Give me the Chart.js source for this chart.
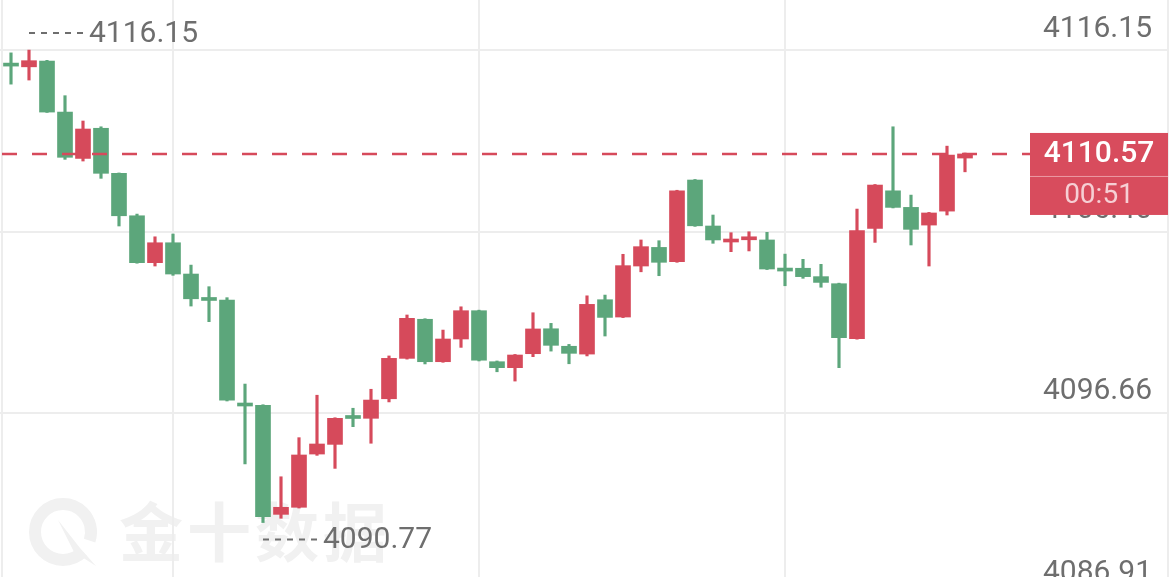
<!DOCTYPE html>
<html>
<head>
<meta charset="utf-8">
<script src="https://cdn.jsdelivr.net/npm/chart.js@4.4.0/dist/chart.umd.min.js"></script>
<style>
  html, body { margin: 0; padding: 0; background: #fff; overflow: hidden; }
  #wrap { position: relative; width: 1170px; height: 600px; }
</style>
</head>
<body>
<div id="wrap"><canvas id="kline" width="1170" height="600"></canvas></div>
<script>
// one-minute candles
const opens = [
  4115.34, 4115.25, 4115.56, 4112.82, 4110.33, 4111.95, 4109.53, 4107.25, 4104.73, 4105.80,
  4104.12, 4102.75, 4102.72, 4097.08, 4097.07, 4091.21, 4091.59, 4094.45, 4094.97, 4096.42,
  4096.37, 4097.42, 4099.59, 4101.69, 4099.41, 4100.63, 4102.15, 4099.41, 4099.09, 4099.84,
  4101.18, 4100.24, 4099.82, 4102.74, 4101.81, 4104.55, 4105.55, 4104.78, 4109.17, 4106.70,
  4105.84, 4105.96, 4105.95, 4104.32, 4104.43, 4103.98, 4103.60, 4100.65, 4106.57, 4108.59,
  4107.70, 4106.75, 4107.50, 4110.35];
const highs = [
  4116.00, 4116.15, 4115.60, 4113.70, 4112.34, 4112.03, 4109.55, 4107.34, 4106.12, 4106.27,
  4104.60, 4103.44, 4102.85, 4098.21, 4097.10, 4093.23, 4095.33, 4097.61, 4096.40, 4096.91,
  4097.93, 4099.72, 4101.92, 4101.72, 4101.11, 4102.36, 4102.18, 4099.45, 4099.80, 4102.04,
  4101.47, 4100.34, 4102.95, 4102.99, 4105.18, 4105.95, 4105.91, 4108.62, 4109.20, 4107.29,
  4106.34, 4106.39, 4106.36, 4105.19, 4104.91, 4104.64, 4103.63, 4107.61, 4108.93, 4112.03,
  4108.36, 4107.43, 4110.99, 4110.62];
const lows = [
  4114.32, 4114.54, 4112.80, 4110.28, 4110.19, 4109.26, 4106.70, 4104.70, 4104.55, 4104.05,
  4102.40, 4101.56, 4097.30, 4093.92, 4090.77, 4091.00, 4091.55, 4094.38, 4093.68, 4095.92,
  4095.03, 4097.25, 4099.55, 4099.29, 4099.38, 4100.18, 4099.45, 4098.87, 4098.37, 4099.68,
  4099.98, 4099.30, 4099.72, 4100.79, 4101.78, 4104.24, 4104.03, 4104.75, 4106.68, 4105.77,
  4105.32, 4105.36, 4104.36, 4103.49, 4103.89, 4103.41, 4099.09, 4100.62, 4105.82, 4107.67,
  4105.68, 4104.55, 4107.29, 4109.61];
const closes = [
  4115.29, 4115.58, 4112.82, 4110.39, 4111.91, 4109.53, 4107.25, 4104.73, 4105.80, 4104.12,
  4102.79, 4102.70, 4097.35, 4097.03, 4091.09, 4091.59, 4094.40, 4094.99, 4096.37, 4096.36,
  4097.35, 4099.59, 4101.74, 4099.41, 4100.63, 4102.15, 4099.49, 4099.09, 4099.77, 4101.17,
  4100.29, 4099.86, 4102.49, 4101.79, 4104.57, 4105.59, 4104.75, 4108.59, 4106.71, 4105.95,
  4105.95, 4106.00, 4104.39, 4104.28, 4103.98, 4103.67, 4100.70, 4106.45, 4108.90, 4107.70,
  4106.52, 4107.40, 4110.51, 4110.57];

const yTicks = [4116.15, 4106.40, 4096.66, 4086.91];
const xGridAt = [-0.5, 9, 26, 43];
const lastPrice = 4110.57;
const countdown = '00:51';
const watermark = '金十数据';

const RED = '#d64a5b';
const GREEN = '#5ca67b';
const GRID = '#ededed';
const LABEL = '#6e6e6e';
const FONT = 'Roboto, "Noto Sans", sans-serif';

Chart.defaults.font.family = FONT;

const up = i => closes[i] >= opens[i];
const candleColor = c => up(c.dataIndex) ? RED : GREEN;

const wicks = lows.map((l, i) => ({x: i, y: [l, highs[i]]}));
const bodies = opens.map((o, i) => ({x: i, y: [o, closes[i]]}));

let iHigh = 0, iLow = 0;
for (let i = 0; i < highs.length; i++) {
  if (highs[i] > highs[iHigh]) iHigh = i;
  if (lows[i] < lows[iLow]) iLow = i;
}

const overlay = {
  id: 'overlay',
  beforeDraw(chart) {
    const ctx = chart.ctx;
    ctx.save();
    // watermark
    ctx.strokeStyle = '#f1f1f1';
    ctx.fillStyle = '#f1f1f1';
    ctx.lineWidth = 12;
    ctx.beginPath();
    ctx.arc(63, 532, 28, 0.25 * Math.PI, 2.1 * Math.PI);
    ctx.stroke();
    ctx.beginPath();
    ctx.moveTo(58, 520); ctx.lineTo(80, 548); ctx.lineTo(96, 566); ctx.lineTo(74, 552);
    ctx.closePath(); ctx.fill();
    ctx.font = 'bold 64px "Noto Sans CJK SC"';
    ctx.textBaseline = 'middle';
    ctx.textAlign = 'left';
    for (let k = 0; k < watermark.length; k++) {
      ctx.fillText(watermark[k], 119 + 68 * k, 532);
    }
    ctx.restore();
  },
  afterDatasetsDraw(chart) {
    const {ctx, scales: {x, y}} = chart;
    const tagLeft = 1030, tagRight = chart.chartArea.right;
    const py = y.getPixelForValue(lastPrice);
    ctx.save();

    // last price line
    ctx.strokeStyle = RED;
    ctx.lineWidth = 2.5;
    ctx.setLineDash([15, 15]);
    ctx.beginPath();
    ctx.moveTo(2, py);
    ctx.lineTo(tagLeft, py);
    ctx.stroke();

    // high / low markers
    ctx.strokeStyle = LABEL;
    ctx.fillStyle = LABEL;
    ctx.lineWidth = 2;
    ctx.setLineDash([6, 6]);
    ctx.font = '30px ' + FONT;
    ctx.textAlign = 'left';
    ctx.textBaseline = 'middle';
    const marks = [[iHigh, highs[iHigh], -17], [iLow, lows[iLow], 17]];
    for (const [i, v, dy] of marks) {
      const mx = x.getPixelForValue(i);
      const my = y.getPixelForValue(v) + dy;
      ctx.beginPath();
      ctx.moveTo(mx, my);
      ctx.lineTo(mx + 54, my);
      ctx.stroke();
      ctx.fillText(v.toFixed(2), mx + 60, my + 1);
    }

    // price tag
    ctx.setLineDash([]);
    ctx.fillStyle = '#d84c5d';
    ctx.fillRect(tagLeft, py - 21, tagRight - tagLeft, 82);
    ctx.strokeStyle = '#ec9aa4';
    ctx.lineWidth = 1;
    ctx.beginPath();
    ctx.moveTo(tagLeft, py + 22.5);
    ctx.lineTo(tagRight, py + 22.5);
    ctx.stroke();
    ctx.textAlign = 'center';
    ctx.fillStyle = '#ffffff';
    ctx.font = '500 30px ' + FONT;
    ctx.fillText(lastPrice.toFixed(2), (tagLeft + tagRight) / 2, py + 1);
    ctx.fillStyle = '#f6cfd4';
    ctx.font = '28px ' + FONT;
    ctx.fillText(countdown, (tagLeft + tagRight) / 2, py + 42);
    ctx.restore();
  }
};

new Chart(document.getElementById('kline'), {
  type: 'bar',
  data: {
    datasets: [{
      label: 'wick',
      data: wicks,
      backgroundColor: candleColor,
      barThickness: 2.5,
      grouped: false,
      order: 2
    }, {
      label: 'body',
      data: bodies,
      backgroundColor: candleColor,
      barThickness: 15,
      minBarLength: 3,
      grouped: false,
      order: 1
    }]
  },
  options: {
    responsive: false,
    animation: false,
    devicePixelRatio: 1,
    layout: { padding: { left: 0, right: 2, top: 0, bottom: 0 } },
    plugins: {
      legend: { display: false },
      tooltip: { enabled: false }
    },
    scales: {
      x: {
        type: 'linear',
        min: -11 / 18,
        max: -11 / 18 + 1168 / 18,
        offset: false,
        bounds: 'data',
        afterBuildTicks: s => { s.ticks = xGridAt.map(v => ({value: v})); },
        ticks: { display: false },
        grid: { color: GRID, lineWidth: 2, drawTicks: false, offset: false },
        border: { display: false }
      },
      y: {
        position: 'right',
        min: 4086.61,
        max: 4118.84,
        bounds: 'data',
        afterBuildTicks: s => { s.ticks = yTicks.map(v => ({value: v})); },
        afterFit: s => { s.width = 0; s.paddingTop = 0; s.paddingBottom = 0; },
        ticks: {
          mirror: true,
          padding: -16,
          labelOffset: -21,
          color: LABEL,
          font: { size: 30 },
          callback: v => Number(v).toFixed(2)
        },
        grid: { color: GRID, lineWidth: 2, drawTicks: false },
        border: { display: true, color: GRID, width: 2 }
      }
    }
  },
  plugins: [overlay]
});
</script>
</body>
</html>
